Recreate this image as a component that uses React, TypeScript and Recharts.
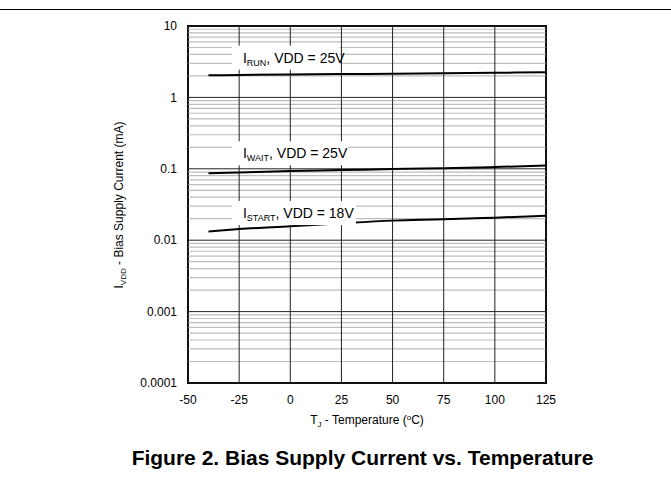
import { LineChart, Line, XAxis, YAxis, ReferenceLine, ReferenceDot, ReferenceArea } from "recharts";

// junction temperature (°C) sample points
const temps = [-40, -25, 0, 25, 50, 75, 100, 125];
// bias supply current (mA)
const runCurrent = [2.04, 2.06, 2.09, 2.12, 2.15, 2.18, 2.21, 2.25];
const waitCurrent = [0.0865, 0.089, 0.093, 0.096, 0.099, 0.102, 0.106, 0.111];
const startCurrent = [0.0132, 0.0143, 0.0157, 0.0173, 0.0188, 0.0196, 0.0207, 0.022];

const xTicks = [-50, -25, 0, 25, 50, 75, 100, 125];
const yTicks = [0.0001, 0.001, 0.01, 0.1, 1, 10];
const minorSteps = [2, 3, 4, 5, 6, 7, 8, 9];

const curveLabels = [
  { sub: "RUN", rest: ", VDD = 25V", t: -28.5, i: 3.6, w: 108 },
  { sub: "WAIT", rest: ", VDD = 25V", t: -28.5, i: 0.165, w: 116 },
  { sub: "START", rest: ", VDD = 18V", t: -28.5, i: 0.024, w: 124 },
];

const data = temps.map((t, k) => ({
  t,
  run: runCurrent[k],
  wait: waitCurrent[k],
  start: startCurrent[k],
}));

const minorY = yTicks.slice(0, -1).flatMap((d) => minorSteps.map((s) => d * s));

const FONT = "'Liberation Sans', Arial, sans-serif";

const CurveLabel = ({ cx, cy, sub, rest, w }: any) => (
  <g>
    <rect x={cx} y={cy - 12} width={w} height={24} fill="#fff" />
    <text x={cx + 11} y={cy + 5} fontSize={14} fontFamily={FONT} fill="#000">
      <tspan>I</tspan>
      <tspan fontSize={9} dy={3}>{sub}</tspan>
      <tspan dy={-3}>{rest}</tspan>
    </text>
  </g>
);

const XLabel = ({ viewBox }: any) => {
  const cx = viewBox.x + viewBox.width / 2;
  return (
    <text x={cx} y={viewBox.y + 41} textAnchor="middle" fontSize={12} fontFamily={FONT} fill="#000">
      <tspan>T</tspan>
      <tspan fontSize={8} dy={3}>J</tspan>
      <tspan dy={-3}> - Temperature (</tspan>
      <tspan fontSize={8} dy={-4}>o</tspan>
      <tspan dy={4}>C)</tspan>
    </text>
  );
};

const YLabel = () => (
  <text
    x={0}
    y={0}
    transform="translate(123 205) rotate(-90)"
    textAnchor="middle"
    fontSize={12}
    fontFamily={FONT}
    fill="#000"
  >
    <tspan>I</tspan>
    <tspan fontSize={8} dy={3}>VDD</tspan>
    <tspan dy={-3}> - Bias Supply Current (mA)</tspan>
  </text>
);

export default function App() {
  return (
    <div style={{ position: "absolute", left: 0, top: 0, width: 671, height: 483, background: "#fff" }}>
      <div style={{ position: "absolute", left: 0, top: 9, width: 671, height: 1, background: "#000" }} />
      <LineChart
        width={671}
        height={483}
        data={data}
        margin={{ top: 26, right: 125, bottom: 70, left: 0 }}
      >
        <XAxis
          dataKey="t"
          type="number"
          domain={[-50, 125]}
          ticks={xTicks}
          tickLine={false}
          axisLine={false}
          tickSize={0}
          tickMargin={12}
          height={30}
          tick={{ fontSize: 12, fill: "#000", fontFamily: FONT }}
          label={{ content: XLabel }}
        />
        <YAxis
          type="number"
          scale="log"
          domain={[0.0001, 10]}
          allowDataOverflow
          ticks={yTicks}
          tickLine={false}
          axisLine={false}
          tickSize={0}
          tickMargin={11}
          width={188}
          tickFormatter={(v) => String(v)}
          tick={{ fontSize: 12, fill: "#000", fontFamily: FONT }}
          label={{ content: YLabel }}
        />
        {minorY.map((v) => (
          <ReferenceLine key={"m" + v} y={v} stroke="#bdbdbd" strokeWidth={1.2} />
        ))}
        {yTicks.map((v) => (
          <ReferenceLine key={"y" + v} y={v} stroke="#222" strokeWidth={1} />
        ))}
        {xTicks.map((v) => (
          <ReferenceLine key={"x" + v} x={v} stroke="#222" strokeWidth={1} />
        ))}
        {curveLabels.map((l) => (
          <ReferenceDot
            key={l.sub}
            x={l.t}
            y={l.i}
            r={1}
            shape={(p: any) => <CurveLabel cx={p.cx} cy={p.cy} sub={l.sub} rest={l.rest} w={l.w} />}
          />
        ))}
        <ReferenceArea x1={-50} x2={125} y1={0.0001} y2={10} fill="none" stroke="#000" strokeWidth={2} />
        <Line dataKey="run" type="monotone" stroke="#000" strokeWidth={2} dot={false} isAnimationActive={false} />
        <Line dataKey="wait" type="monotone" stroke="#000" strokeWidth={2} dot={false} isAnimationActive={false} />
        <Line dataKey="start" type="monotone" stroke="#000" strokeWidth={2} dot={false} isAnimationActive={false} />
      </LineChart>
      <div
        style={{
          position: "absolute",
          left: 0,
          width: 725,
          top: 446,
          textAlign: "center",
          fontFamily: FONT,
          fontWeight: "bold",
          fontSize: 21,
          color: "#000",
        }}
      >
        Figure 2. Bias Supply Current vs. Temperature
      </div>
    </div>
  );
}
